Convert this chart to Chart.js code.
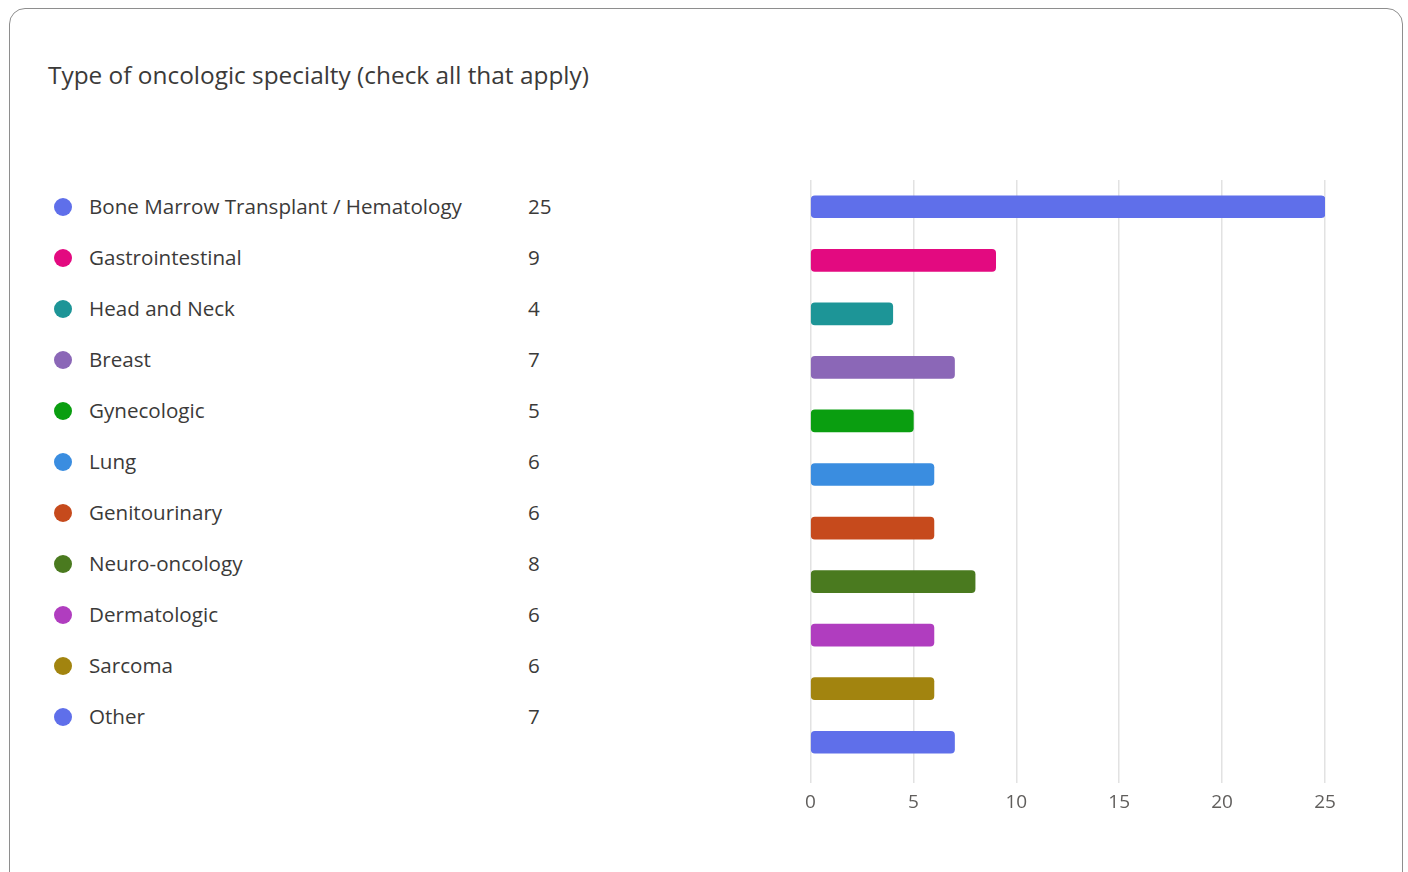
<!DOCTYPE html>
<html>
<head>
<meta charset="utf-8">
<script src="https://cdn.jsdelivr.net/npm/chart.js@4/dist/chart.umd.min.js"></script>
<style>
  body { margin: 0; background: #fff; font-family: "Open Sans", sans-serif; color: #3b3a39; }
  #card {
    position: absolute; left: 9px; top: 8px; width: 1394px; height: 900px;
    border: 1.5px solid #8e8e8e; border-radius: 16px; box-sizing: border-box;
  }
  #title { position: absolute; left: 48px; top: 59px; font-size: 24.4px; line-height: 32px; margin: 0; font-weight: normal; }
  #legend { position: absolute; left: 0; top: 0; }
  .row { position: absolute; height: 30px; line-height: 30px; font-size: 20.6px; white-space: nowrap; }
  .dot { position: absolute; left: 54px; width: 18px; height: 18px; border-radius: 50%; }
  .label { position: absolute; left: 89px; }
  .count { position: absolute; left: 528px; }
  #wrap { position: absolute; left: 797px; top: 170px; width: 563px; height: 659px; }
</style>
</head>
<body>
<div id="card"></div>
<h1 id="title">Type of oncologic specialty (check all that apply)</h1>
<div id="legend"></div>
<div id="wrap"><canvas id="specialtyChart"></canvas></div>

<script>
const categories = [
  "Bone Marrow Transplant / Hematology",
  "Gastrointestinal",
  "Head and Neck",
  "Breast",
  "Gynecologic",
  "Lung",
  "Genitourinary",
  "Neuro-oncology",
  "Dermatologic",
  "Sarcoma",
  "Other",
];
const counts = [25, 9, 4, 7, 5, 6, 6, 8, 6, 6, 7];
const colors = [
  "#5f6fea", "#e30a80", "#1d9597", "#8b67b7", "#0a9e10", "#3a8de0",
  "#c64a1c", "#4a7a1f", "#b03dbf", "#a2840f", "#5f6fea",
];
const xTicks = [0, 5, 10, 15, 20, 25];

// legend list on the left
let legend = document.querySelector("#legend");
categories.forEach((name, i) => {
  let row = document.createElement("div");
  row.className = "row";
  row.style.top = (191 + i * 51) + "px";
  row.innerHTML = `
    <span class="dot" style="top:7px;background:${colors[i]}"></span>
    <span class="label">${name}</span>
    <span class="count">${counts[i]}</span>
  `;
  legend.append(row);
});

const ctx = document.getElementById("specialtyChart").getContext("2d");

let chart = new Chart(ctx, {
  type: "bar",
  data: {
    labels: categories,
    datasets: [
      {
        data: counts,
        backgroundColor: colors,
        barThickness: 22,
        borderRadius: 4,
        borderSkipped: false,
      },
    ],
  },
  options: {
    indexAxis: "y",
    responsive: true,
    maintainAspectRatio: false,
    animation: false,
    layout: { padding: { left: 10, right: 35, top: 10, bottom: 0 } },
    plugins: { legend: { display: false }, tooltip: { enabled: false } },
    scales: {
      x: {
        min: 0,
        max: 25,
        afterBuildTicks: (scale) => {
          scale.ticks = xTicks.map((v) => ({ value: v }));
        },
        afterFit: (scale) => {
          scale.height = 60;
        },
        grid: { color: "#e2e2e2", lineWidth: 1.5, tickLength: 14 },
        border: { display: false },
        ticks: {
          color: "#605e5c",
          padding: 8,
          font: { family: "Open Sans", size: 19 },
        },
      },
      y: {
        display: false,
      },
    },
  },
});
</script>
</body>
</html>
